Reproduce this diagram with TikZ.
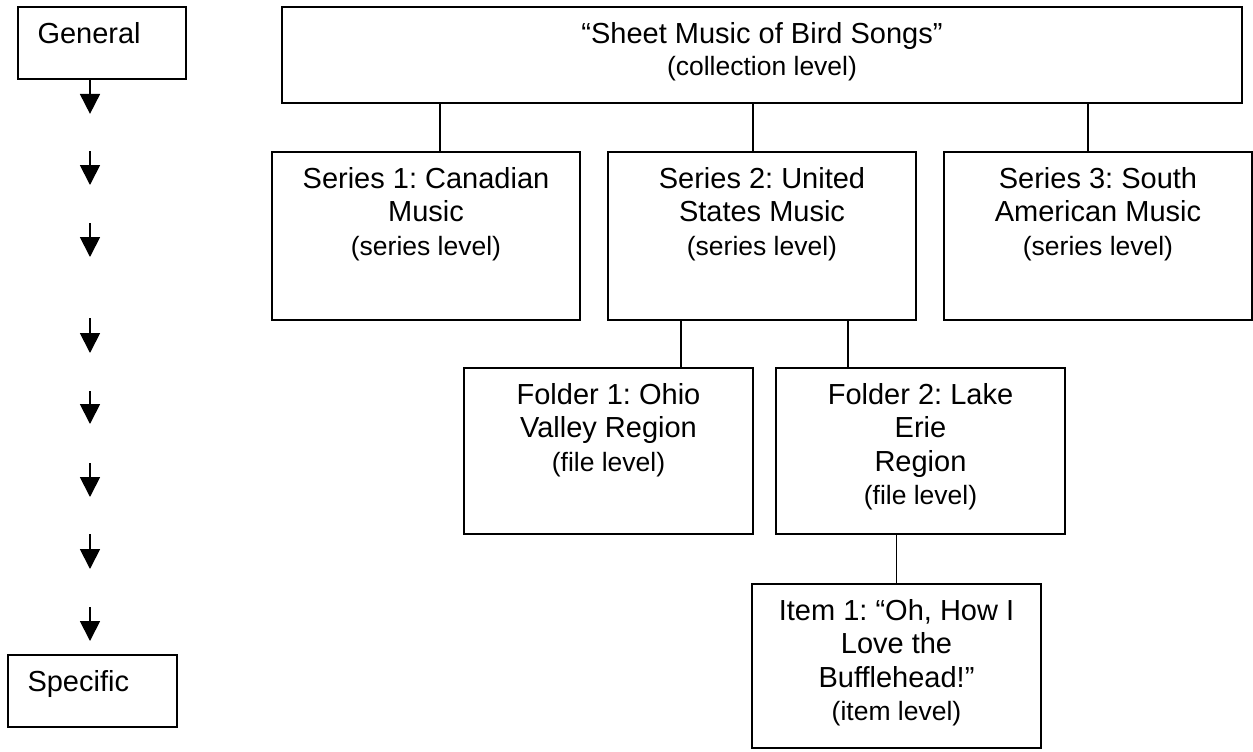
\documentclass[tikz,border=0pt]{standalone}
\usepackage{fontspec}
\setmainfont{Liberation Sans}
\usetikzlibrary{arrows.meta, positioning}
\newcommand{\lvltxt}[1]{{\fontsize{13.25}{15.5}\selectfont #1}}
\frenchspacing

\begin{document}
\begin{tikzpicture}[
    x=0.5pt, y=-0.5pt,
    box/.style={draw, line width=0.9pt, minimum width=154pt, minimum height=84pt, inner sep=0pt},
    boxtext/.style={anchor=north, yshift=-8pt, inner sep=0pt, align=center, font=\fontsize{14.5}{16.7}\selectfont},
    sidetext/.style={anchor=north west, xshift=10pt, yshift=-8pt, inner sep=0pt, font=\fontsize{14.5}{16.7}\selectfont},
    link/.style={line width=0.9pt},
    arrow/.style={-{Triangle[width=10pt,length=10pt]}, line width=0.9pt}
]
\useasboundingbox (0,0) rectangle (1253,751);

% Scale on the left
\node[box, minimum width=84pt, minimum height=36pt, label={[sidetext]north west:General}] (general) at (102,43) {};
\node[box, minimum width=84.5pt, minimum height=36pt, label={[sidetext]north west:Specific}] (specific) at (92.5,691) {};

% Collection
\node[box, minimum width=480pt, minimum height=48pt,
    label={[boxtext]north:{“Sheet Music of Bird Songs”\\[-0.5pt]\lvltxt{(collection level)}}}] (top) at (762,55) {};

% Series
\node[box, label={[boxtext]north:{Series 1: Canadian\\Music\\\lvltxt{(series level)}}}] (series1) at (426,236) {};
\node[box, label={[boxtext]north:{Series 2: United\\States Music\\\lvltxt{(series level)}}}] (series2) at (762,236) {};
\node[box, label={[boxtext]north:{Series 3: South\\American Music\\\lvltxt{(series level)}}}] (series3) at (1098,236) {};

% Folders
\node[box, minimum width=144.5pt, minimum height=83pt,
    label={[boxtext]north:{Folder 1: Ohio\\Valley Region\\\lvltxt{(file level)}}}] (folder1) at (608.5,451) {};
\node[box, minimum width=144.5pt, minimum height=83pt,
    label={[boxtext]north:{Folder 2: Lake\\Erie\\Region\\\lvltxt{(file level)}}}] (folder2) at (920.5,451) {};

% Item
\node[box, minimum width=144.5pt, minimum height=82pt,
    label={[boxtext]north:{Item 1: “Oh, How I\\Love the\\Bufflehead!”\\\lvltxt{(item level)}}}] (item1) at (896.5,666) {};

% Tree lines
\draw[link] ([xshift=7pt]series1.north) -- ([xshift=7pt]series1.north |- top.south);
\draw[link] ([xshift=-4.5pt]series2.north) -- ([xshift=-4.5pt]series2.north |- top.south);
\draw[link] ([xshift=-5pt]series3.north) -- ([xshift=-5pt]series3.north |- top.south);
\draw[link] ([xshift=36.25pt]folder1.north) -- ([xshift=36.25pt]folder1.north |- series2.south);
\draw[link] ([xshift=-36.25pt]folder2.north) -- ([xshift=-36.25pt]folder2.north |- series2.south);
\draw[link] (item1.north) -- (item1.north |- folder2.south);

% General to specific arrows
\coordinate (a1) at (90,151); \coordinate (b1) at (90,185);
\coordinate (a2) at (90,223); \coordinate (b2) at (90,257);
\coordinate (a3) at (90,318); \coordinate (b3) at (90,353);
\coordinate (a4) at (90,391); \coordinate (b4) at (90,424);
\coordinate (a5) at (90,463); \coordinate (b5) at (90,497);
\coordinate (a6) at (90,534); \coordinate (b6) at (90,569);
\coordinate (a7) at (90,607); \coordinate (b7) at (90,641);

\draw[arrow] ([xshift=-6pt]general.south) -- ++(0,34);
\draw[arrow] (a1) -- (b1);
\draw[arrow] (a2) -- (b2);
\draw[arrow] (a3) -- (b3);
\draw[arrow] (a4) -- (b4);
\draw[arrow] (a5) -- (b5);
\draw[arrow] (a6) -- (b6);
\draw[arrow] (a7) -- (b7);

\end{tikzpicture}
\end{document}
